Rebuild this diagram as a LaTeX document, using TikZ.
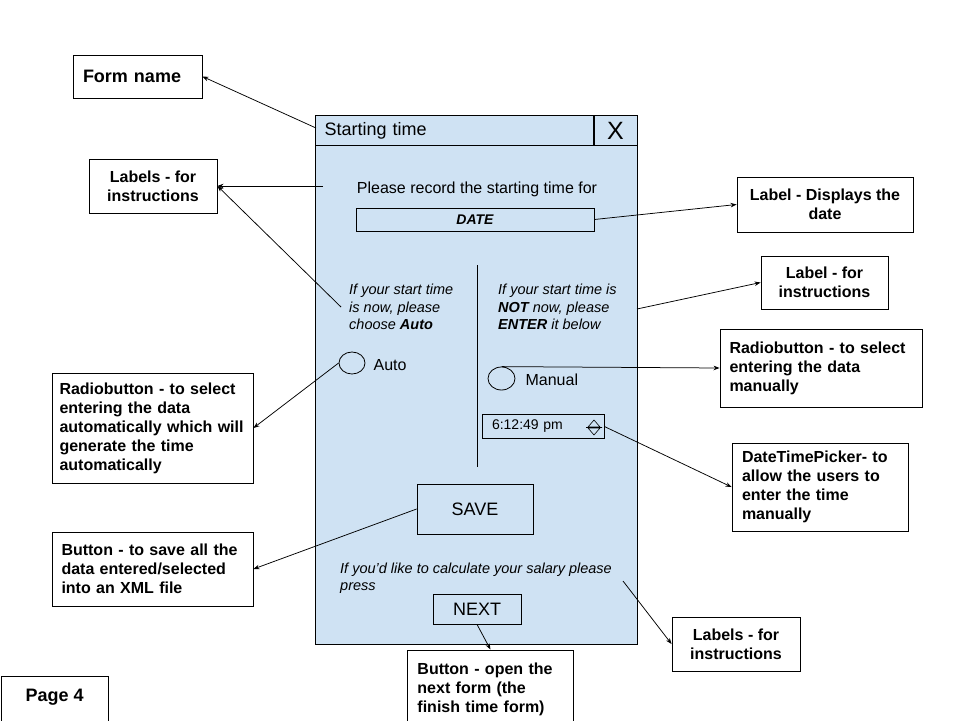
\documentclass[tikz,border=0pt]{standalone}
\usepackage{fontspec}
\setmainfont{Liberation Sans}
\usepackage{tikz}
\usetikzlibrary{arrows.meta, positioning}
\usetikzlibrary{shapes.geometric}
\definecolor{formblue}{HTML}{CFE2F3}

\begin{document}
\begin{tikzpicture}[
x=1pt, y=-1pt,
every node/.append style = {inner sep=0pt},
  note/.style = {rectangle, draw, fill=white, line width=0.9pt, align=center,
                 font=\bfseries\fontsize{16}{19}\selectfont},
 lnote/.style = {note, align=left, inner xsep=9.5pt},
  ctrl/.style = {rectangle, draw, line width=0.8pt},
 radio/.style = {ellipse, draw, line width=0.8pt,
                 minimum width=26pt, minimum height=22pt},
  hint/.style = {align=left, font=\itshape\fontsize{14.5}{17.5}\selectfont},
  word/.style = {font=\fontsize{16}{19}\selectfont},
   pil/.style = {draw, line width=0.75pt, -{Stealth[length=6pt,width=4.5pt]}}
                    ]
\useasboundingbox (0,0) rectangle (960,720);
\clip (0,0) rectangle (960,720);
%form
\node (form)     [ctrl, fill=formblue, minimum width=321.5pt,
                  minimum height=528.5pt]       at (476.25,379.75) {};
\node (titlebar) [ctrl, anchor=north west, minimum height=30pt,
                  text width=260pt, inner xsep=9pt, align=left,
                  font=\fontsize{18}{21}\selectfont] at (form.north west) {Starting time};
\node (closebox) [ctrl, anchor=north east, minimum width=43pt, minimum height=30pt,
                  font=\fontsize{25}{27}\selectfont] at (form.north east) {X};
\node (please)   [word]                         at (477,189) {Please record the starting time for};
\node (datebox)  [ctrl, minimum width=238pt, minimum height=23pt,
                  font=\bfseries\itshape\fontsize{14}{16}\selectfont] at (475,219.5) {DATE};
\draw[line width=0.8pt] (477,265) -- (477,467);
\node (autotext)   [hint, anchor=west, inner xsep=8pt] at (341,307)
                   {If your start time\\is now, please\\choose \textbf{Auto}};
\node (manualtext) [hint, anchor=west]          at (498,307)
                   {If your start time is\\\textbf{NOT} now, please\\\textbf{ENTER} it below};
\node (autoradio)   [radio]                     at (352,363) {};
\node (autolabel)   [word, right=8pt of autoradio, yshift=-2pt] {Auto};
\node (manualradio) [radio, minimum width=27pt, minimum height=23pt] at (501.5,378.5) {};
\node (manuallabel) [word, right=10pt of manualradio, yshift=-1pt] {Manual};
\node (timepicker)  [ctrl, minimum width=122pt, minimum height=23.5pt, text width=102pt,
                     inner xsep=10pt, align=left,
                     font=\fontsize{14}{16}\selectfont] at (543,426.5) {6:12:49 pm};
\draw[line width=0.6pt] (588,427) -- (594,420) -- (600,427) -- cycle
                        (588,428) -- (594,435) -- (600,428) -- cycle
                        (586,427.5) -- (602,427.5);
\node (savebtn) [ctrl, minimum width=116pt, minimum height=50pt,
                 font=\fontsize{18}{21}\selectfont] at (475,509) {SAVE};
\node (salary)  [hint, anchor=west]              at (340,578)
                {If you'd like to calculate your salary please\\press};
\node (nextbtn) [ctrl, minimum width=88pt, minimum height=30pt,
                 font=\fontsize{18}{21}\selectfont] at (477,609) {NEXT};
%notes
\node (formname)     [lnote, text width=109pt, inner xsep=10pt, minimum height=43pt,
                      font=\bfseries\fontsize{18}{21}\selectfont] at (137.5,76.5) {Form name};
\node (leftlabels)   [note, minimum width=128pt, minimum height=54pt] at (153,186)
                     {Labels - for\\instructions};
\node (displays)     [note, minimum width=176pt, minimum height=55pt] at (825,204.5)
                     {Label - Displays the\\date};
\node (labelinstr)   [note, minimum width=127pt, minimum height=53pt] at (824.5,282.5)
                     {Label - for\\instructions};
\node (radiomanual)  [lnote, text width=183pt, minimum height=78pt] at (821,368)
                     {Radiobutton - to select\\entering the data\\manually};
\node (radioauto)    [lnote, text width=186pt, inner xsep=7.5pt, minimum height=110pt]
                     at (152.5,428)
                     {Radiobutton - to select\\entering the data\\automatically which will\\generate the time\\automatically};
\node (dtp)          [lnote, text width=156pt, inner xsep=10pt, minimum height=88pt] at (820,487)
                     {DateTimePicker- to\\allow the users to\\enter the time\\manually};
\node (savenote)     [lnote, text width=182pt, minimum height=74pt] at (152.5,569)
                     {Button - to save all the\\data entered/selected\\into an XML file};
\node (bottomlabels) [note, minimum width=128pt, minimum height=54pt] at (736,644)
                     {Labels - for\\instructions};
\node (nextnote)     [lnote, anchor=north west, text width=146pt, inner xsep=10pt,
                      inner ysep=12.5pt] at (407,649.5)
                     {Button - open the\\next form (the\\finish time form)\rule[-30pt]{0pt}{30pt}};
\node (page)         [note, anchor=north west, minimum width=107.5pt, inner ysep=13.5pt,
                      font=\bfseries\fontsize{18}{21}\selectfont] at (0.5,675.5)
                     {Page 4\rule[-30pt]{0pt}{30pt}};
% edges
\coordinate (titlept)  at (316,128);
\coordinate (pleasept) at (323,186);
\coordinate (manualpt) at (637,309);
\coordinate (salarypt) at (623,581);
\path       (titlept)            edge[pil] (formname.east)
            (pleasept)           edge[pil] (leftlabels.east)
            (autotext.west)      edge[pil] (leftlabels.east)
            (datebox.east)       edge[pil] (displays.west)
            (manualpt)           edge[pil] (labelinstr.west)
            (manualradio.north)  edge[pil] (radiomanual.west)
            (autoradio.west)     edge[pil] (radioauto.east)
            (timepicker.east)    edge[pil] (dtp.west)
            (savebtn.west)       edge[pil] (savenote.east)
            (salarypt)           edge[pil] (bottomlabels.west)
            (nextbtn.south)      edge[pil] (nextnote.north);
\end{tikzpicture}
\end{document}
